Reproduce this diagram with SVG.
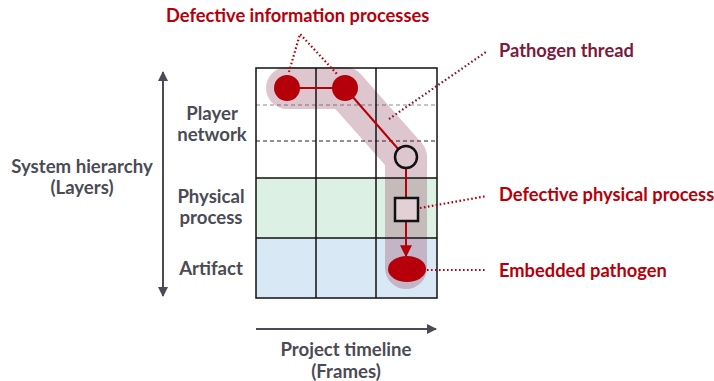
<svg xmlns="http://www.w3.org/2000/svg" width="714" height="381" viewBox="0 0 714 381">
<defs>
<style>
text{font-family:Lato,"Source Sans Pro","Open Sans",sans-serif;font-weight:bold}
.lbl{fill:#4b4b55;font-size:18.6px;text-anchor:middle}
.red{fill:#b5000b;font-size:18.3px}
.mar{fill:#7b1a3c;font-size:18.3px}
.grid{stroke:#111;stroke-width:1.5;fill:none}
.lead{fill:none;stroke:#b5000b;stroke-width:2.2;stroke-dasharray:1.6 2.4}
.leadm{fill:none;stroke:#7b1a3c;stroke-width:2.2;stroke-dasharray:1.6 2.4}
.ax{stroke:#4b4b55;stroke-width:2;fill:none}
</style>
<marker id="ah" viewBox="0 0 10 10" refX="9" refY="5" markerWidth="5" markerHeight="5" orient="auto-start-reverse" markerUnits="strokeWidth"><path d="M0,0L10,5L0,10z" fill="#4b4b55"/></marker>
<marker id="rh" viewBox="0 0 10 10" refX="9" refY="5" markerWidth="6" markerHeight="6" orient="auto" markerUnits="strokeWidth"><path d="M0,0L10,5L0,10z" fill="#b5000b"/></marker>
</defs>
<rect width="714" height="381" fill="#fff"/>
<g id="layers">
<rect x="256" y="178" width="181" height="60" fill="#dcf0e4"/>
<rect x="256" y="238" width="181" height="60" fill="#d9e8f5"/>
<line x1="256" y1="105" x2="437" y2="105" stroke="#888" stroke-width="1" stroke-dasharray="4 3"/>
<line x1="256" y1="141" x2="437" y2="141" stroke="#222" stroke-width="1" stroke-dasharray="4 3"/>
</g>
<g id="thread">
<path d="M287,88 L345,88 L406,157 L406,268" fill="none" stroke="#7b1a3c" stroke-opacity="0.25" stroke-width="42" stroke-linecap="round" stroke-linejoin="round"/>
</g>
<g id="grid">
<rect x="256" y="68" width="181" height="230" class="grid"/>
<line x1="316" y1="68" x2="316" y2="298" class="grid"/>
<line x1="376" y1="68" x2="376" y2="298" class="grid"/>
<line x1="256" y1="178" x2="437" y2="178" class="grid"/>
<line x1="256" y1="238" x2="437" y2="238" class="grid"/>
</g>
<g id="connectors">
<line x1="287" y1="88" x2="345" y2="88" stroke="#b5000b" stroke-width="2"/>
<line x1="345" y1="88" x2="399" y2="150" stroke="#b5000b" stroke-width="2"/>
<line x1="406" y1="168" x2="406" y2="198" stroke="#b5000b" stroke-width="2"/>
<line x1="406" y1="221" x2="406" y2="256" stroke="#b5000b" stroke-width="2" marker-end="url(#rh)"/>
<path class="lead" d="M289,72 L300,34 L337,74"/>
<path class="leadm" d="M389,119 L486,52"/>
<path class="lead" d="M420,208 L487,196"/>
<path class="lead" d="M427,270 L487,270"/>
<line class="ax" x1="163" y1="72" x2="163" y2="296" marker-start="url(#ah)" marker-end="url(#ah)"/>
<line class="ax" x1="256" y1="329" x2="436" y2="329" marker-end="url(#ah)"/>
</g>
<g id="node-info1"><circle cx="287" cy="88" r="13" fill="#b5000b"/></g>
<g id="node-info2"><circle cx="345" cy="88" r="13" fill="#b5000b"/></g>
<g id="node-player"><circle cx="406" cy="157" r="11" fill="none" stroke="#111" stroke-width="2.5"/></g>
<g id="node-physical"><rect x="395" y="198" width="23" height="23" fill="#e3d0d5" stroke="#111" stroke-width="2.5"/></g>
<g id="node-pathogen"><ellipse cx="407" cy="269" rx="19" ry="13" fill="#b5000b"/></g>
<g id="labels">
<text class="red" x="166" y="22">Defective information processes</text>
<text class="mar" x="499" y="57">Pathogen thread</text>
<text class="red" x="499" y="201">Defective physical process</text>
<text class="red" x="499" y="277">Embedded pathogen</text>
<text class="lbl" x="212" y="120">Player</text>
<text class="lbl" x="212" y="141">network</text>
<text class="lbl" x="211" y="203">Physical</text>
<text class="lbl" x="211" y="224">process</text>
<text class="lbl" x="211" y="275">Artifact</text>
<text class="lbl" x="82" y="173">System hierarchy</text>
<text class="lbl" x="82" y="194">(Layers)</text>
<text class="lbl" x="346" y="356">Project timeline</text>
<text class="lbl" x="346" y="378">(Frames)</text>
</g>
</svg>
